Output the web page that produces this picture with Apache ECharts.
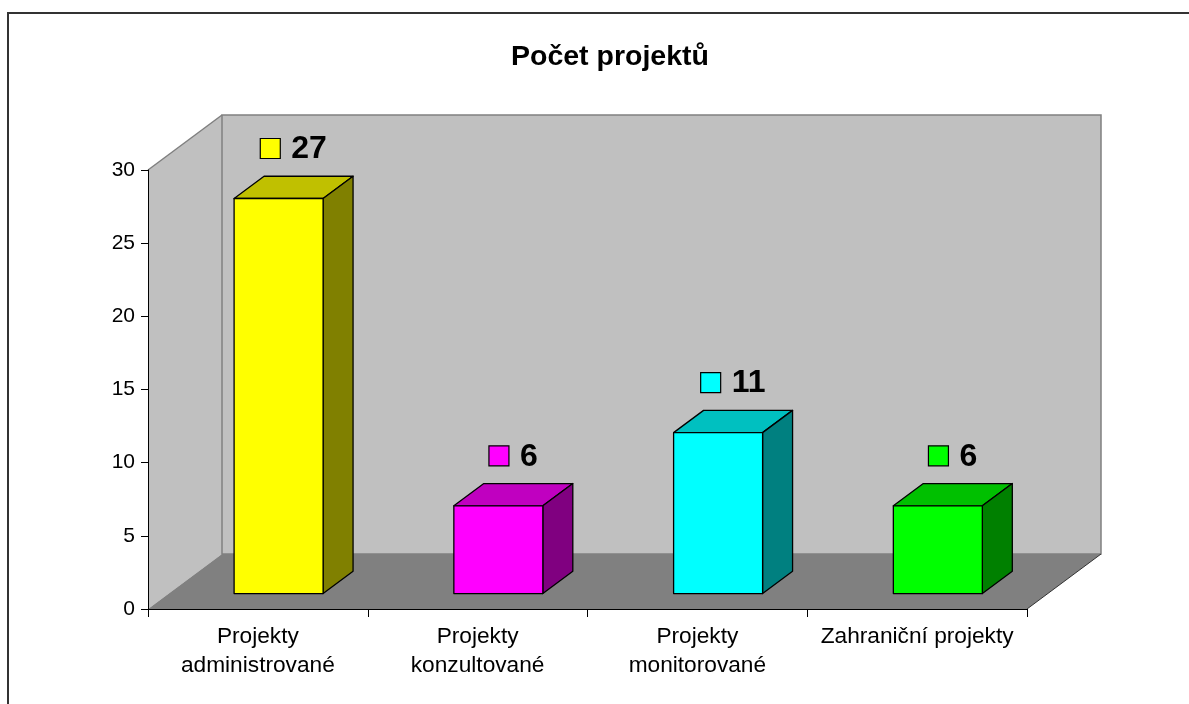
<!DOCTYPE html>
<html>
<head>
<meta charset="utf-8">
<script src="https://cdn.jsdelivr.net/npm/echarts@6/dist/echarts.min.js"></script>
<style>
  html, body { margin: 0; padding: 0; background: #fff; }
  #chart { width: 1189px; height: 704px; }
</style>
</head>
<body>
<div id="chart"></div>
<script>
// ---- data ----
const title = 'Počet projektů';
const categories = ['Projekty administrované', 'Projekty konzultované', 'Projekty monitorované', 'Zahraniční projekty'];
const values = [27, 6, 11, 6];
const yTicks = { min: 0, max: 30, interval: 5 };

// ---- style ----
const frontColors = ['#ffff00', '#ff00ff', '#00ffff', '#00ff00'];
const topColors = ['#c0c000', '#c000c0', '#00c0c0', '#00c000'];
const sideColors = ['#808000', '#800080', '#008080', '#008000'];
const DEPTH = [74, -55];       // full depth of the 3D plot area
const BAR_OFF = 0.28;          // bar front plane position (fraction of depth)
const BAR_DEPTH = 0.405;       // bar depth (fraction of depth)
const BAR_W = 0.405;           // bar width (fraction of band)
const FONT = 'Arial, "Liberation Sans", sans-serif';

const measureCtx = document.createElement('canvas').getContext('2d');
function textWidth(t, font) { measureCtx.font = font; return measureCtx.measureText(t).width; }

const chart = echarts.init(document.getElementById('chart'), null, { renderer: 'canvas' });

const option = {
  animation: false,
  backgroundColor: '#ffffff',
  title: {
    text: title,
    left: 506,
    top: 38,
    textStyle: { fontFamily: FONT, fontWeight: 'bold', fontSize: 28.5, color: '#000' }
  },
  graphic: [{
    type: 'rect',
    shape: { x: 8, y: 13, width: 1400, height: 1000 },
    style: { fill: null, stroke: '#333', lineWidth: 2 },
    silent: true
  }],
  grid: { left: 148, right: 162, top: 170, bottom: 95, containLabel: false },
  xAxis: {
    type: 'category',
    data: categories,
    z: 10,
    axisLine: { lineStyle: { color: '#000', width: 1 } },
    axisTick: { show: true, length: 8, lineStyle: { color: '#000' } },
    axisLabel: {
      interval: 0,
      margin: 13,
      lineHeight: 29,
      fontFamily: FONT,
      fontSize: 22.7,
      color: '#000',
      formatter: function (name) {
        return name.indexOf('Projekty ') === 0 ? name.replace('Projekty ', 'Projekty\n') : name;
      }
    },
    splitLine: { show: false }
  },
  yAxis: {
    type: 'value',
    min: yTicks.min, max: yTicks.max, interval: yTicks.interval,
    z: 10,
    axisLine: { show: true, lineStyle: { color: '#000', width: 1 } },
    axisTick: { show: true, length: 7, lineStyle: { color: '#000' } },
    axisLabel: { margin: 13, fontFamily: FONT, fontSize: 21, color: '#000' },
    splitLine: { show: false }
  },
  series: [
    {
      type: 'custom',
      name: 'walls',
      silent: true,
      clip: false,
      z: 1,
      data: [[0, 0]],
      renderItem: function (params, api) {
        const cs = params.coordSys;
        const L = cs.x, R = cs.x + cs.width, T = cs.y, B = cs.y + cs.height;
        const dx = DEPTH[0], dy = DEPTH[1];
        return {
          type: 'group',
          children: [
            { type: 'polygon', shape: { points: [[L, T], [L + dx, T + dy], [L + dx, B + dy], [L, B]] },
              style: { fill: '#c0c0c0', stroke: null } },
            { type: 'rect', shape: { x: L + dx, y: T + dy, width: R - L, height: B - T } ,
              style: { fill: '#c0c0c0', stroke: '#808080', lineWidth: 1.5 } },
            { type: 'polygon', shape: { points: [[L, B], [R, B], [R + dx, B + dy], [L + dx, B + dy]] },
              style: { fill: '#808080', stroke: null } },
            { type: 'line', shape: { x1: L, y1: T, x2: L + dx, y2: T + dy },
              style: { stroke: '#808080', lineWidth: 1.5 } },
            { type: 'line', shape: { x1: R, y1: B, x2: R + dx, y2: B + dy },
              style: { stroke: '#333', lineWidth: 1 } }
          ]
        };
      }
    },
    {
      type: 'custom',
      name: 'Počet projektů',
      silent: true,
      clip: false,
      z: 3,
      data: values.map((v, i) => [i, v]),
      renderItem: function (params, api) {
        const i = api.value(0), v = api.value(1);
        const base = api.coord([i, 0]);
        const top = api.coord([i, v]);
        const band = api.size([1, 0])[0];
        const w = band * BAR_W;
        const ox = DEPTH[0] * BAR_OFF, oy = DEPTH[1] * BAR_OFF;
        const ddx = DEPTH[0] * BAR_DEPTH, ddy = DEPTH[1] * BAR_DEPTH;
        const x0 = base[0] - w / 2 + ox, x1 = x0 + w;
        const y0 = top[1] + oy, y1 = base[1] + oy;
        const stroke = { stroke: '#000', lineWidth: 1.3, lineJoin: 'round' };
        const labelFont = 'bold 32px ' + FONT;
        const txt = String(v);
        const tw = textWidth(txt, labelFont);
        const key = 20, gap = 11;
        const total = key + gap + tw;
        const cx = (x0 + x1) / 2 + ddx / 2;
        const cy = y0 - 50;
        const kx = cx - total / 2;
        return {
          type: 'group',
          children: [
            { type: 'polygon', shape: { points: [[x0, y0], [x1, y0], [x1 + ddx, y0 + ddy], [x0 + ddx, y0 + ddy]] },
              style: Object.assign({ fill: topColors[i] }, stroke) },
            { type: 'polygon', shape: { points: [[x1, y0], [x1 + ddx, y0 + ddy], [x1 + ddx, y1 + ddy], [x1, y1]] },
              style: Object.assign({ fill: sideColors[i] }, stroke) },
            { type: 'rect', shape: { x: x0, y: y0, width: w, height: y1 - y0 },
              style: Object.assign({ fill: frontColors[i] }, stroke) },
            { type: 'rect', shape: { x: kx, y: cy - key / 2, width: key, height: key },
              style: { fill: frontColors[i], stroke: '#000', lineWidth: 1.2 } },
            { type: 'text', x: kx + key + gap, y: cy + 1,
              style: { text: txt, font: labelFont, fill: '#000', textAlign: 'left', textVerticalAlign: 'middle' } }
          ]
        };
      }
    }
  ]
};

chart.setOption(option);
</script>
</body>
</html>
